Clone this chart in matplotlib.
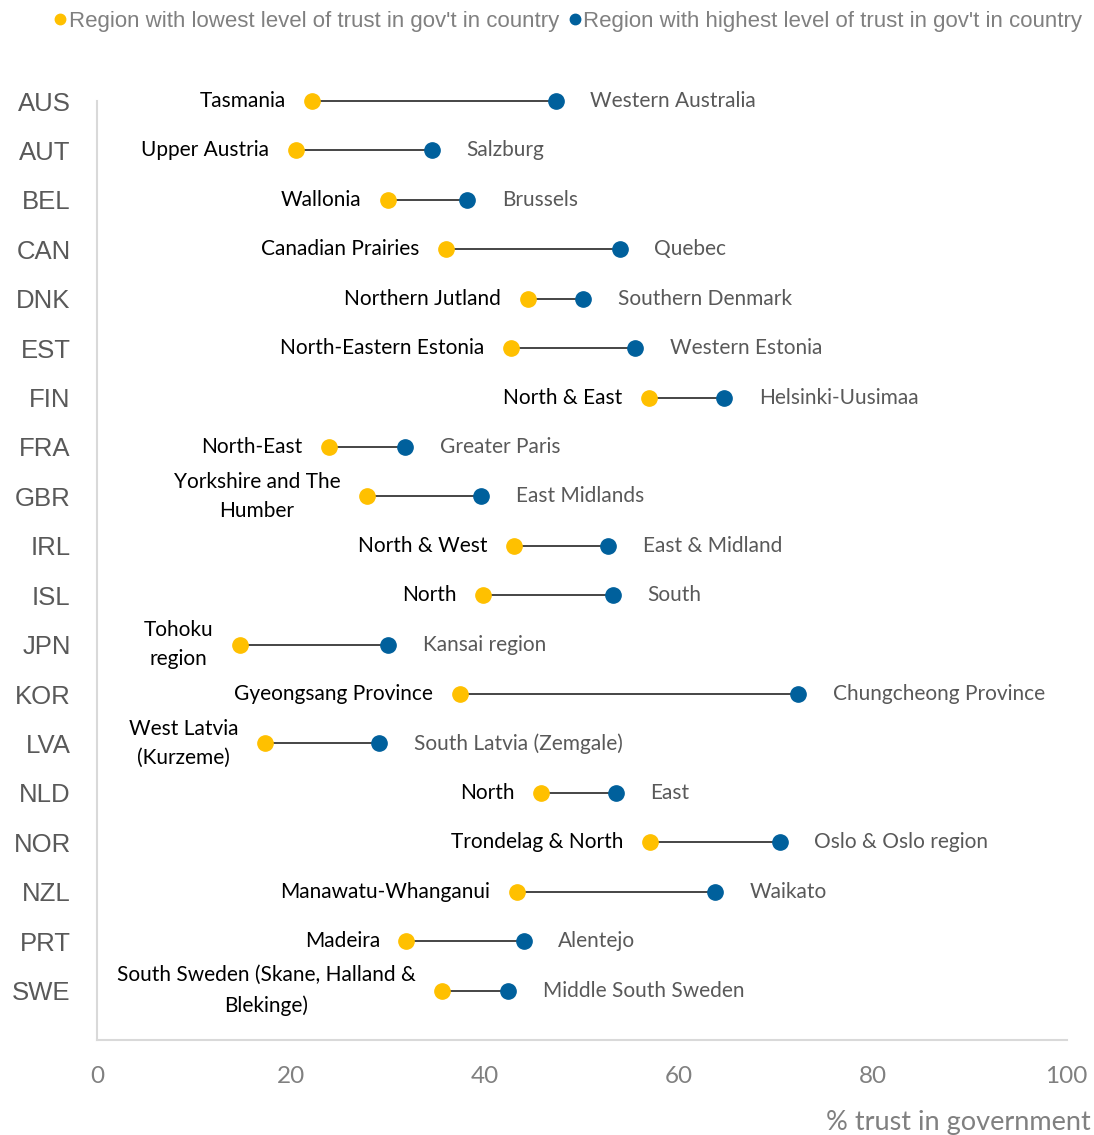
import matplotlib.pyplot as plt
import numpy as np

countries = ["AUS", "AUT", "BEL", "CAN", "DNK", "EST", "FIN", "FRA", "GBR", "IRL",
             "ISL", "JPN", "KOR", "LVA", "NLD", "NOR", "NZL", "PRT", "SWE"]
low_regions = ["Tasmania", "Upper Austria", "Wallonia", "Canadian Prairies", "Northern Jutland",
               "North-Eastern Estonia", "North & East", "North-East", "Yorkshire and The\nHumber",
               "North & West", "North", "Tohoku\nregion", "Gyeongsang Province",
               "West Latvia\n(Kurzeme)", "North", "Trondelag & North", "Manawatu-Whanganui",
               "Madeira", "South Sweden (Skane, Halland &\nBlekinge)"]
high_regions = ["Western Australia", "Salzburg", "Brussels", "Quebec", "Southern Denmark",
                "Western Estonia", "Helsinki-Uusimaa", "Greater Paris", "East Midlands",
                "East & Midland", "South", "Kansai region", "Chungcheong Province",
                "South Latvia (Zemgale)", "East", "Oslo & Oslo region", "Waikato", "Alentejo",
                "Middle South Sweden"]
low_vals = [22.2, 20.5, 30.0, 36.0, 44.4, 42.7, 56.9, 23.9, 27.8, 43.0,
            39.8, 14.7, 37.4, 17.3, 45.8, 57.0, 43.3, 31.9, 35.6]
high_vals = [47.3, 34.5, 38.2, 53.9, 50.1, 55.5, 64.7, 31.8, 39.6, 52.7,
             53.2, 30.0, 72.3, 29.1, 53.5, 70.4, 63.7, 44.0, 42.4]

yellow = "#FFC000"
blue = "#00609C"
label_font = ["Lato", "DejaVu Sans"]

fig = plt.figure(figsize=(10.94, 11.35), dpi=100)
ax = fig.add_axes([0.0887, 0.0837, 0.8863, 0.8273])

y = np.arange(len(countries))
for i in y:
    ax.plot([low_vals[i], high_vals[i]], [i, i], color="#262626", lw=1.2, zorder=1, clip_on=False)
ax.plot(low_vals, y, "o", color=yellow, ms=11, zorder=2, clip_on=False)
ax.plot(high_vals, y, "o", color=blue, ms=11, zorder=2, clip_on=False)

for i in y:
    ax.annotate(low_regions[i], (low_vals[i], i), xytext=(-19, 0), textcoords="offset points",
                ha="right", va="center", multialignment="center", fontsize=15,
                color="black", family=label_font, linespacing=1.6)
    ax.annotate(high_regions[i], (high_vals[i], i), xytext=(25, 0), textcoords="offset points",
                ha="left", va="center", fontsize=15, color="#595959", family=label_font)

ax.set_xlim(0, 100)
ax.set_ylim(len(countries), 0)
ax.set_xticks([0, 20, 40, 60, 80, 100])
ax.set_yticks(y)
ax.set_yticklabels(countries, family="Liberation Sans", fontsize=18.5, color="#595959")
ax.tick_params(axis="y", length=0, pad=19)
ax.tick_params(axis="x", length=0, pad=19, labelsize=17.5, labelcolor="#808080")
for lab in ax.get_xticklabels():
    lab.set_family(label_font)

for s in ["top", "right"]:
    ax.spines[s].set_visible(False)
for s in ["left", "bottom"]:
    ax.spines[s].set_color("#d9d9d9")
    ax.spines[s].set_linewidth(1.5)

fig.text(0.997, 0.011, "% trust in government", ha="right", va="center", fontsize=19.5,
         color="#808080", family=label_font)

h1 = plt.Line2D([], [], marker="o", ls="", color=yellow, ms=7.5)
h2 = plt.Line2D([], [], marker="o", ls="", color=blue, ms=7.5)
fig.legend([h1, h2], ["Region with lowest level of trust in gov't in country",
                      "Region with highest level of trust in gov't in country"],
           loc="center", bbox_to_anchor=(0.519, 0.981), ncol=2, frameon=False,
           handlelength=0.6, handletextpad=0.1, columnspacing=0.4,
           prop={"family": ["Liberation Sans Narrow", "Liberation Sans"], "size": 16},
           labelcolor="#808080")

fig.savefig("out.png", dpi=100)
